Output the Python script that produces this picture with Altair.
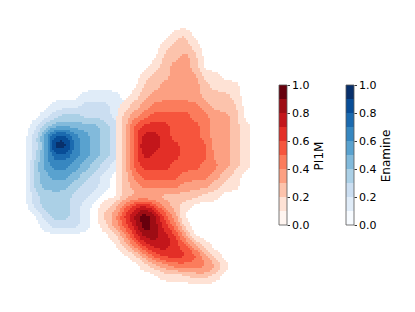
import altair as alt
import numpy as np
import pandas as pd

alt.data_transformers.disable_max_rows()

# ---------------- data ----------------
# colour-bar ticks and band edges
tick_values = [0.0, 0.2, 0.4, 0.6, 0.8, 1.0]
band_edges = [0.0, 0.1, 0.2, 0.3, 0.4, 0.5, 0.6, 0.7, 0.8, 0.9, 1.0]
reds = ["#fff5f0", "#fee2d5", "#fcc3ac", "#fca082", "#fb7c5c",
        "#f6553d", "#e32f27", "#c3161b", "#9e0d14", "#67000d"]
blues = ["#f7fbff", "#e0ecf8", "#cbdef1", "#abd0e6", "#82badb",
         "#59a2cf", "#3787c0", "#1b6aaf", "#084d97", "#08306b"]

# contour levels (fraction of peak density) of the 9 filled bands
levels = [0.05, 0.156, 0.261, 0.367, 0.472, 0.578, 0.683, 0.789, 0.894]

# density band (0-9) on a 10-px grid:
# (row y, x of first listed node, band digits going right in 10-px steps)
pi1m_bands = [
    (36, 175, "12"),
    (46, 165, "1221"),
    (56, 165, "2232"),
    (66, 155, "12332"),
    (76, 145, "12233311"),
    (86, 145, "2233332111"),
    (96, 135, "12333332221"),
    (106, 125, "123444443222"),
    (116, 125, "234555544332"),
    (126, 125, "2566655543321"),
    (136, 125, "2577655543321"),
    (146, 125, "2587665553321"),
    (156, 125, "2576665553321"),
    (166, 125, "2566655544321"),
    (176, 125, "245555444321"),
    (186, 125, "234444333211"),
    (196, 125, "2222222211"),
    (206, 105, "124675321"),
    (216, 105, "236898530"),
    (226, 105, "1357986410"),
    (236, 115, "136887630"),
    (246, 125, "2467765310"),
    (256, 135, "1356665310"),
    (266, 145, "1234444310"),
    (276, 165, "1112210"),
]
enamine_bands = [
    (96, 85, "1111"),
    (106, 55, "11122211"),
    (116, 45, "123322211"),
    (126, 35, "1344444321"),
    (136, 35, "2588654321"),
    (146, 35, "2499654321"),
    (156, 35, "2577654321"),
    (166, 35, "3566543210"),
    (176, 35, "3455432100"),
    (186, 35, "3444322100"),
    (196, 35, "2333221000"),
    (206, 35, "2333210000"),
    (216, 45, "233210000"),
    (226, 45, "122210000"),
]

# ---------------- build the filled-contour cells ----------------
grid_x = np.arange(15, 266, 10)
grid_y = np.arange(16, 287, 10)
X0, X1, Y0, Y1 = 8, 268, 8, 296      # plotted region (reference pixels)
STEP = 2
cx = np.arange(X0 + STEP / 2, X1, STEP)
cy = np.arange(Y0 + STEP / 2, Y1, STEP)

ext = levels + [1.0]
band_value = [0.0] + [(ext[d - 1] + ext[d]) / 2 for d in range(1, 10)]
band_value[9] = 1.0


def density(bands):
    V = np.zeros((len(grid_y), len(grid_x)))
    for yy, xs, digits in bands:
        j = int((yy - 16) // 10)
        i0 = int((xs - 15) // 10)
        for k, ch in enumerate(digits):
            V[j, i0 + k] = band_value[int(ch)]
    sig = 5.5
    gx = np.exp(-(cx[:, None] - grid_x[None, :]) ** 2 / (2 * sig ** 2))
    gy = np.exp(-(cy[:, None] - grid_y[None, :]) ** 2 / (2 * sig ** 2))
    gx /= gx.sum(axis=1, keepdims=True)
    gy /= gy.sum(axis=1, keepdims=True)
    F = gy @ V @ gx.T
    return np.searchsorted(np.array(levels), F, side="right")


band_r = density(pi1m_bands)
band_b = density(enamine_bands)

recs = []
for j, yc in enumerate(cy):
    row = []
    for i in range(len(cx)):
        if band_r[j, i] > 0:
            row.append(reds[band_r[j, i]])
        elif band_b[j, i] > 0:
            row.append(blues[band_b[j, i]])
        else:
            row.append(None)
    i = 0
    while i < len(row):
        if row[i] is None:
            i += 1
            continue
        k = i
        while k + 1 < len(row) and row[k + 1] == row[i]:
            k += 1
        recs.append({"x0": cx[i] - STEP / 2, "x1": cx[k] + STEP / 2,
                     "y0": yc - STEP / 2, "y1": yc + STEP / 2, "c": row[i]})
        i = k + 1
cells = pd.DataFrame(recs)

W, H = X1 - X0, Y1 - Y0
main = alt.Chart(cells).mark_rect(strokeWidth=0).encode(
    x=alt.X("x0:Q", scale=alt.Scale(domain=[X0, X1], nice=False, zero=False), axis=None),
    x2="x1:Q",
    y=alt.Y("y0:Q", scale=alt.Scale(domain=[Y0, Y1], nice=False, zero=False, reverse=True), axis=None),
    y2="y1:Q",
    color=alt.Color("c:N", scale=None),
).properties(width=W, height=H)

# colour bars: value 1 at page y 85, value 0 at page y 225
top_px, bot_px = 85 - Y0, 225 - Y0
f1, f0 = 1 - top_px / H, 1 - bot_px / H
span = 1 / (f1 - f0)
lo_d = -f0 * span
hi_d = lo_d + span


def colorbar(colors, title):
    df = pd.DataFrame({"lo": band_edges[:-1], "hi": band_edges[1:], "c": colors})
    ysc = alt.Scale(domain=[lo_d, hi_d], nice=False, zero=False)
    ax = alt.Axis(orient="right", values=tick_values, format=".1f", title=title,
                  grid=False, domain=False, tickSize=2.5, tickWidth=0.8,
                  tickColor="black", labelPadding=2, labelFontSize=11,
                  labelColor="black", labelFont="DejaVu Sans",
                  titleFont="DejaVu Sans", titleFontSize=12, titleFontWeight="normal",
                  titleColor="black", titleAngle=270, titleBaseline="top",
                  titlePadding=5, titleY=155.5 - Y0)
    bars = alt.Chart(df).mark_rect(strokeWidth=0).encode(
        x=alt.value(0), x2=alt.value(8),
        y=alt.Y("lo:Q", scale=ysc, axis=ax), y2="hi:Q",
        color=alt.Color("c:N", scale=None))
    frame = alt.Chart(pd.DataFrame({"lo": [0.0], "hi": [1.0]})).mark_rect(
        fillOpacity=0, stroke="#555555", strokeWidth=0.8).encode(
        x=alt.value(0), x2=alt.value(8),
        y=alt.Y("lo:Q", scale=ysc, axis=ax), y2="hi:Q")
    return alt.layer(bars, frame).properties(width=8, height=H)


bars_group = alt.hconcat(colorbar(reds, "PI1M"), colorbar(blues, "Enamine"), spacing=20)
chart = alt.hconcat(main, bars_group, spacing=10).properties(
    padding=0, background="white"
).configure_view(strokeWidth=0)

chart.save("out.html", embed_options={"renderer": "svg", "actions": False})
